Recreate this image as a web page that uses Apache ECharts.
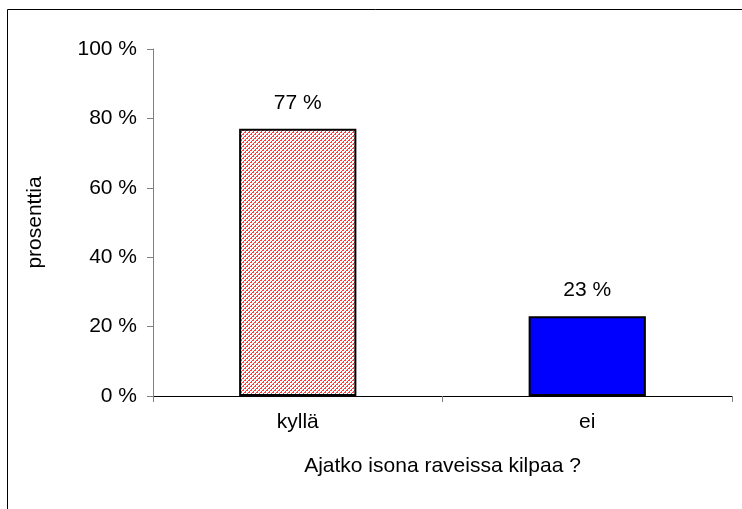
<!DOCTYPE html>
<html>
<head>
<meta charset="utf-8">
<script src="https://cdn.jsdelivr.net/npm/echarts@6/dist/echarts.min.js"></script>
<style>
html,body{margin:0;padding:0;background:#fff;}
#chart{width:742px;height:509px;}
</style>
</head>
<body>
<div id="chart"></div>
<script>
const categories = ['kyllä', 'ei'];
const values = [77, 23];
const yTicks = [0, 20, 40, 60, 80, 100];
const yAxisTitle = 'prosenttia';
const xAxisTitle = 'Ajatko isona raveissa kilpaa ?';

function hatch() {
  const c = document.createElement('canvas');
  c.width = 4; c.height = 4;
  const ctx = c.getContext('2d');
  ctx.fillStyle = '#ffffff';
  ctx.fillRect(0, 0, 4, 4);
  ctx.fillStyle = '#ff3b3b';
  for (let y = 0; y < 4; y++) {
    for (let x = 0; x < 4; x++) {
      if ((x + y) % 4 === 0 || ((x + y) % 4 === 1 && y % 2 === 0)) ctx.fillRect(x, y, 1, 1);
    }
  }
  return c;
}
const barColors = [{ image: hatch(), repeat: 'repeat' }, '#0000ff'];

const chart = echarts.init(document.getElementById('chart'), null, { renderer: 'canvas' });
const font = 'Liberation Sans, Arial, sans-serif';
const fs = 21;
chart.setOption({
  animation: false,
  backgroundColor: '#ffffff',
  textStyle: { fontFamily: font },
  graphic: [{
    type: 'rect', shape: { x: 7.5, y: 9.5, width: 800, height: 600 },
    style: { fill: 'none', stroke: '#000', lineWidth: 1 }, z: -1
  }],
  grid: { left: 153, right: 10, top: 49, bottom: 113 },
  xAxis: {
    type: 'category', data: categories,
    name: xAxisTitle, nameLocation: 'middle', nameGap: 60,
    nameTextStyle: { fontSize: fs, color: '#000', fontFamily: font },
    axisLine: { lineStyle: { color: '#000', width: 1 } },
    axisTick: { show: true, length: 6, lineStyle: { color: '#808080' } },
    axisLabel: { fontSize: fs, color: '#000', margin: 16, fontFamily: font }
  },
  yAxis: {
    type: 'value', min: yTicks[0], max: yTicks[yTicks.length - 1], interval: 20,
    name: yAxisTitle, nameLocation: 'middle', nameGap: 107, nameRotate: 90,
    nameTextStyle: { fontSize: fs, color: '#000', fontFamily: font },
    axisLine: { show: true, lineStyle: { color: '#808080' } },
    axisTick: { show: true, length: 6, lineStyle: { color: '#808080' } },
    splitLine: { show: false },
    axisLabel: { fontSize: fs, color: '#000', margin: 16, fontFamily: font, formatter: v => v + ' %' }
  },
  series: [{
    type: 'bar',
    data: values.map((v, i) => ({ value: v, itemStyle: { color: barColors[i] } })),
    barWidth: '40.5%',
    itemStyle: { borderColor: '#000', borderWidth: 2 },
    label: { show: true, position: 'top', distance: 15, fontSize: fs, color: '#000', fontFamily: font, formatter: p => p.value + ' %' }
  }]
});
</script>
</body>
</html>
